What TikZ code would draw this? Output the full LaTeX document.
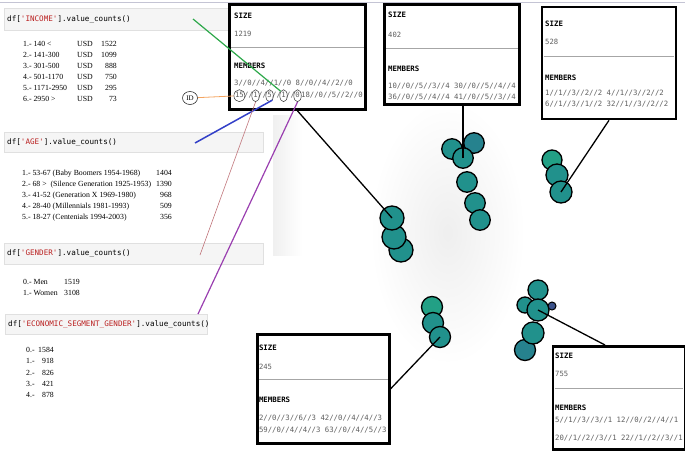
\documentclass[tikz,border=0pt]{standalone}
\usepackage{fontspec}
\setmainfont{Liberation Serif}
\setmonofont{DejaVu Sans Mono}
\usepackage{tikz}
\usetikzlibrary{positioning, shapes.geometric}

\definecolor{cellbg}{HTML}{F5F5F5}
\definecolor{cellrule}{HTML}{E0E0E0}
\definecolor{strred}{HTML}{BA2121}
\definecolor{memgray}{HTML}{5E5E5E}
\definecolor{dotteal}{HTML}{21918C}
\definecolor{dotdeep}{HTML}{26828E}
\definecolor{dotsea}{HTML}{22A085}
\definecolor{dotblue}{HTML}{3B528B}

\tikzset{
	cell/.style={draw=cellrule, fill=cellbg, line width=0.6pt, anchor=north west, inner sep=0pt},
	code/.style={font=\ttfamily\fontsize{7.6}{9}\selectfont, inner sep=0pt},
	cnt/.style={font=\fontsize{7.8}{9}\selectfont, anchor=base west, inner sep=0pt, text height=5.5pt, text depth=1.7pt},
	cntr/.style={cnt, anchor=base east},
	cbox/.style={draw, line width=2.6pt, fill=white, anchor=north west, inner sep=0pt},
	hd/.style={font=\ttfamily\bfseries\fontsize{7.4}{8}\selectfont, inner sep=0pt, text height=5.5pt, text depth=1.5pt},
	num/.style={font=\ttfamily\fontsize{7.2}{8}\selectfont, text=memgray, inner sep=0pt, text height=5.5pt, text depth=1.5pt},
	mem/.style={font=\ttfamily\fontsize{7.3}{8}\selectfont, text=memgray, inner sep=0pt, text height=5.5pt, text depth=1.5pt},
	rule/.style={draw=gray!70, line width=0.9pt},
	ring/.style={ellipse, draw=black!80, line width=0.5pt, inner sep=0pt},
	dot/.style={circle, draw, line width=1.3pt, fill=dotteal, inner sep=0pt},
	lead/.style={line width=1.3pt},
}

\begin{document}
\begin{tikzpicture}[x=1pt, y=-1pt]
	\useasboundingbox (0,0) rectangle (685,450);

	% fond du nuage de points
	\shade[inner color=gray!13, outer color=white] (370,100) rectangle (525,365);
	\shade[left color=gray!12, right color=white] (273,115) rectangle (302,255);
	\draw[draw=blue!15!gray!40, line width=0.8pt] (0,2) -- (685,2);

	% cellules de code
	\node[cell, minimum width=226pt, minimum height=22pt] (cl1) at (4,8) {};
	\node[code, right=3pt of cl1.west] (cd1) {df[\textcolor{strred}{'INCOME'}].value\_counts()};

	\node[cell, minimum width=259pt, minimum height=20pt] (cl2) at (4,132) {};
	\node[code, right=3pt of cl2.west] (cd2) {df[\textcolor{strred}{'AGE'}].value\_counts()};

	\node[cell, minimum width=259pt, minimum height=21pt] (cl3) at (4,243) {};
	\node[code, right=3pt of cl3.west] (cd3) {df[\textcolor{strred}{'GENDER'}].value\_counts()};

	\node[cell, minimum width=202pt, minimum height=20pt] (cl4) at (5,314) {};
	\node[code, right=3pt of cl4.west] (cd4) {df[\textcolor{strred}{'ECONOMIC\_SEGMENT\_GENDER'}].value\_counts()};

	% INCOME
	\coordinate (usdcol) at (77,0);
	\coordinate (inccol) at (117,0);
	\node[cnt] (i1) at (23,46) {1.- 140 <};
	\node[cnt, below right=3.5pt and 0pt of i1.south west] (i2) {2.- 141-300};
	\node[cnt, below right=3.5pt and 0pt of i2.south west] (i3) {3.- 301-500};
	\node[cnt, below right=3.5pt and 0pt of i3.south west] (i4) {4.- 501-1170};
	\node[cnt, below right=3.5pt and 0pt of i4.south west] (i5) {5.- 1171-2950};
	\node[cnt, below right=3.5pt and 0pt of i5.south west] (i6) {6.- 2950 >};
	\node[cnt] (u1) at (usdcol |- i1.base) {USD};
	\node[cnt] (u2) at (usdcol |- i2.base) {USD};
	\node[cnt] (u3) at (usdcol |- i3.base) {USD};
	\node[cnt] (u4) at (usdcol |- i4.base) {USD};
	\node[cnt] (u5) at (usdcol |- i5.base) {USD};
	\node[cnt] (u6) at (usdcol |- i6.base) {USD};
	\node[cntr] (v1) at (inccol |- i1.base) {1522};
	\node[cntr] (v2) at (inccol |- i2.base) {1099};
	\node[cntr] (v3) at (inccol |- i3.base) {888};
	\node[cntr] (v4) at (inccol |- i4.base) {750};
	\node[cntr] (v5) at (inccol |- i5.base) {295};
	\node[cntr] (v6) at (inccol |- i6.base) {73};

	% AGE
	\coordinate (agecol) at (172,0);
	\node[cnt] (a1) at (22,175.5) {1.- 53-67 (Baby Boomers 1954-1968)};
	\node[cnt, below right=3.4pt and 0pt of a1.south west] (a2) {2.- 68 > \ (Silence Generation 1925-1953)};
	\node[cnt, below right=3.4pt and 0pt of a2.south west] (a3) {3.- 41-52 (Generation X 1969-1980)};
	\node[cnt, below right=3.4pt and 0pt of a3.south west] (a4) {4.- 28-40 (Millennials 1981-1993)};
	\node[cnt, below right=3.4pt and 0pt of a4.south west] (a5) {5.- 18-27 (Centenials 1994-2003)};
	\node[cntr] (w1) at (agecol |- a1.base) {1404};
	\node[cntr] (w2) at (agecol |- a2.base) {1390};
	\node[cntr] (w3) at (agecol |- a3.base) {968};
	\node[cntr] (w4) at (agecol |- a4.base) {509};
	\node[cntr] (w5) at (agecol |- a5.base) {356};

	% GENDER
	\coordinate (gencol) at (64,0);
	\node[cnt] (g1) at (23,284.5) {0.- Men};
	\node[cnt, below right=3.8pt and 0pt of g1.south west] (g2) {1.- Women};
	\node[cnt] (x1) at (gencol |- g1.base) {1519};
	\node[cnt] (x2) at (gencol |- g2.base) {3108};

	% ECONOMIC_SEGMENT_GENDER
	\coordinate (ecocol) at (54,0);
	\node[cnt] (e1) at (26,352.3) {0.-};
	\node[cnt, below right=3.8pt and 0pt of e1.south west] (e2) {1.-};
	\node[cnt, below right=3.8pt and 0pt of e2.south west] (e3) {2.-};
	\node[cnt, below right=3.8pt and 0pt of e3.south west] (e4) {3.-};
	\node[cnt, below right=3.8pt and 0pt of e4.south west] (e5) {4.-};
	\node[cntr] (y1) at (ecocol |- e1.base) {1584};
	\node[cntr] (y2) at (ecocol |- e2.base) {918};
	\node[cntr] (y3) at (ecocol |- e3.base) {826};
	\node[cntr] (y4) at (ecocol |- e4.base) {421};
	\node[cntr] (y5) at (ecocol |- e5.base) {878};

	\node[ring, font=\fontsize{7}{8}\selectfont, minimum width=15pt, minimum height=13pt, line width=0.6pt] (idlab) at (190,98) {ID};

	% les groupes de points
	\node[dot, minimum size=20.5pt] (cA1) at (452,149) {};
	\node[dot, minimum size=20.5pt, fill=dotdeep] (cA2) at (474,143) {};
	\node[dot, minimum size=20.5pt] (cA3) at (463,158) {};
	\node[dot, minimum size=20.5pt] (cA4) at (467,182) {};
	\node[dot, minimum size=20.5pt] (cA5) at (475,203) {};
	\node[dot, minimum size=20.5pt] (cA6) at (480,220) {};

	\node[dot, minimum size=24pt] (cB3) at (401,250) {};
	\node[dot, minimum size=24pt] (cB2) at (394,237) {};
	\node[dot, minimum size=24pt] (cB1) at (392,218) {};

	\node[dot, minimum size=20pt, fill=dotsea] (cC1) at (552,160) {};
	\node[dot, minimum size=22pt] (cC2) at (557,175) {};
	\node[dot, minimum size=22pt] (cC3) at (561,192) {};

	\node[dot, minimum size=21pt, fill=dotsea] (cD1) at (432,307) {};
	\node[dot, minimum size=21pt] (cD2) at (433,323) {};
	\node[dot, minimum size=21pt] (cD3) at (440,337) {};

	\node[dot, minimum size=21pt, fill=dotdeep] (cE5) at (525,350) {};
	\node[dot, minimum size=20pt] (cE1) at (538,290) {};
	\node[dot, minimum size=16pt] (cE2) at (525,305) {};
	\node[dot, minimum size=22pt] (cE3) at (538,310) {};
	\node[dot, minimum size=22pt] (cE4) at (533,333) {};
	\node[dot, minimum size=8pt, line width=1pt, fill=dotblue] (cE6) at (552,306) {};

	% boites SIZE / MEMBERS
	\node[cbox, minimum width=136pt, minimum height=105pt] (b1) at (228.3,3.3) {};
	\node[hd, below right=9pt and 5.7pt of b1.north west] (sz1) {SIZE};
	\node[num, below right=27pt and 5.7pt of b1.north west] (n1) {1219};
	\draw[rule] ([xshift=3pt,yshift=-44pt]b1.north west) -- ([xshift=-3pt,yshift=-44pt]b1.north east);
	\node[hd, below right=59.4pt and 5.7pt of b1.north west] (mb1) {MEMBERS};
	\node[mem, below right=76pt and 5.7pt of b1.north west] (r1a) {3//0//4//1//0 8//0//4//2//0};
	\node[mem, below right=88.7pt and 6.5pt of b1.north west] (p15) {15};
	\node[mem, right=0pt of p15] (q1) {//};
	\node[mem, right=0pt of q1] (p1a) {1};
	\node[mem, right=0pt of p1a] (q2) {//};
	\node[mem, right=0pt of q2] (p5) {5};
	\node[mem, right=0pt of p5] (q3) {//};
	\node[mem, right=0pt of q3] (p1b) {1};
	\node[mem, right=0pt of p1b] (q4) {//};
	\node[mem, right=0pt of q4] (p0) {0};
	\node[mem, right=1pt of p0] (r1b) {18//0//5//2//0};
	\node[ring, minimum width=11pt, minimum height=12pt] (id15) at (p15) {};
	\node[ring, minimum width=7.5pt, minimum height=12pt] (id1a) at (p1a) {};
	\node[ring, minimum width=7.5pt, minimum height=12pt] (id5) at (p5) {};
	\node[ring, minimum width=7.5pt, minimum height=12pt] (id1b) at (p1b) {};
	\node[ring, minimum width=7.5pt, minimum height=12pt] (id0) at (p0) {};

	\node[cbox, minimum width=135pt, minimum height=100pt] (b2) at (383.3,3.3) {};
	\node[hd, below right=8.7pt and 4.7pt of b2.north west] (sz2) {SIZE};
	\node[num, below right=28.7pt and 4.7pt of b2.north west] (n2) {402};
	\draw[rule] ([xshift=3pt,yshift=-44.7pt]b2.north west) -- ([xshift=-3pt,yshift=-44.7pt]b2.north east);
	\node[hd, below right=62.7pt and 4.7pt of b2.north west] (mb2) {MEMBERS};
	\node[mem, below right=79.7pt and 4.7pt of b2.north west] (r2a) {10//0//5//3//4 30//0//5//4//4};
	\node[mem, below right=90.4pt and 4.7pt of b2.north west] (r2b) {36//0//5//4//4 41//0//5//3//4};

	\node[cbox, minimum width=134pt, minimum height=112pt] (b3) at (540.7,5.7) {};
	\node[hd, below right=15.3pt and 4.3pt of b3.north west] (sz3) {SIZE};
	\node[num, below right=33pt and 4.3pt of b3.north west] (n3) {528};
	\draw[rule] ([xshift=3pt,yshift=-51pt]b3.north west) -- ([xshift=-3pt,yshift=-51pt]b3.north east);
	\node[hd, below right=68.6pt and 4.3pt of b3.north west] (mb3) {MEMBERS};
	\node[mem, below right=83.6pt and 4.3pt of b3.north west] (r3a) {1//1//3//2//2 4//1//3//2//2};
	\node[mem, below right=95.3pt and 4.3pt of b3.north west] (r3b) {6//1//3//1//2 32//1//3//2//2};

	\node[cbox, minimum width=132pt, minimum height=109pt] (b4) at (256,333) {};
	\node[hd, below right=11.3pt and 2.8pt of b4.north west] (sz4) {SIZE};
	\node[num, below right=30.7pt and 2.8pt of b4.north west] (n4) {245};
	\draw[rule] ([xshift=3pt,yshift=-46.3pt]b4.north west) -- ([xshift=-3pt,yshift=-46.3pt]b4.north east);
	\node[hd, below right=64pt and 2.8pt of b4.north west] (mb4) {MEMBERS};
	\node[mem, below right=81.7pt and 2.8pt of b4.north west] (r4a) {2//0//3//6//3 42//0//4//4//3};
	\node[mem, below right=93.3pt and 2.8pt of b4.north west] (r4b) {59//0//4//4//3 63//0//4//5//3};

	\node[cbox, minimum width=132pt, minimum height=103pt] (b5) at (551.7,345) {};
	\node[hd, below right=8pt and 3.3pt of b5.north west] (sz5) {SIZE};
	\node[num, below right=25.3pt and 3.3pt of b5.north west] (n5) {755};
	\draw[rule] ([xshift=3pt,yshift=-43.3pt]b5.north west) -- ([xshift=-3pt,yshift=-43.3pt]b5.north east);
	\node[hd, below right=59.3pt and 3.3pt of b5.north west] (mb5) {MEMBERS};
	\node[mem, below right=72pt and 3.3pt of b5.north west] (r5a) {5//1//3//3//1 12//0//2//4//1};
	\node[mem, below right=89.3pt and 3.3pt of b5.north west] (r5b) {20//1//2//3//1 22//1//2//3//1};

	% traits boites -> groupes
	\draw[lead] (id0 |- b1.south) -- (cB1.center);
	\draw[lead] (cA3 |- b2.south) -- (cA3.center);
	\draw[lead] (cC3.center) -- (b3.south);
	\draw[lead] (cD3.center) -- (b4.east);
	\draw[lead] (cE3.center) -- ([xshift=-14pt]b5.north);

	% traits colores vers les ID
	\coordinate (gIn) at (193,19);
	\coordinate (bAge) at (195,143);
	\coordinate (pGen) at (200,255);
	\coordinate (vEco) at (198,314);
	\draw[draw={rgb,255:red,244;green,164;blue,96}, line width=0.8pt] (idlab) -- (id15);
	\draw[draw={rgb,255:red,45;green,168;blue,74}, line width=1.2pt] (gIn) -- (id1b.north west);
	\draw[draw={rgb,255:red,51;green,64;blue,200}, line width=1.5pt] (bAge) -- (id5.south east);
	\draw[draw={rgb,255:red,192;green,116;blue,122}, line width=0.6pt] (pGen) -- (id1a.south);
	\draw[draw={rgb,255:red,154;green,63;blue,176}, line width=1.2pt] (vEco) -- (id0.south);
\end{tikzpicture}
\end{document}
